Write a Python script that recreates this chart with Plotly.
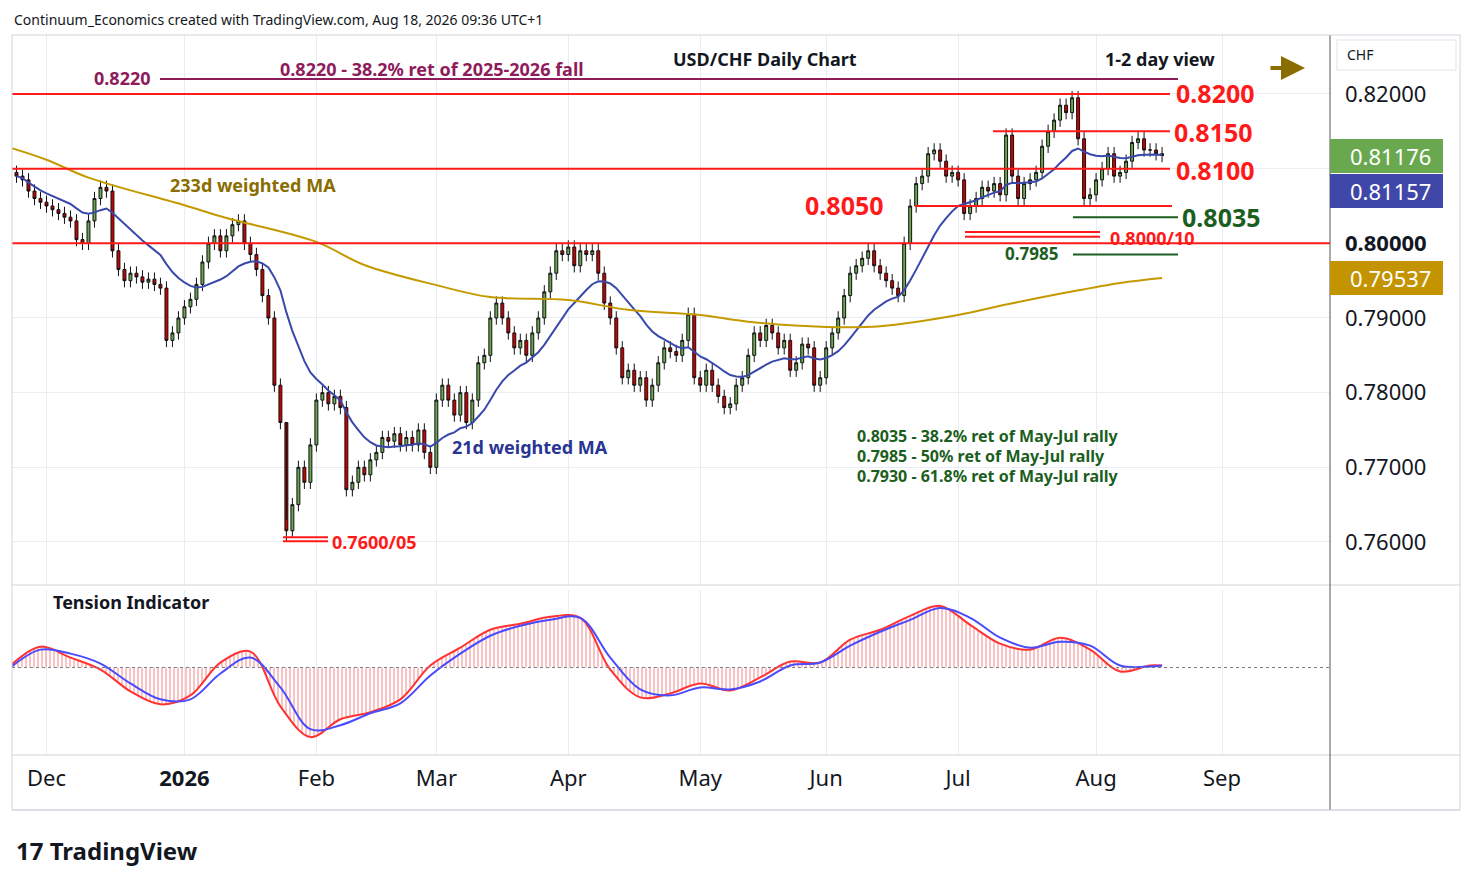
import numpy as np
import pandas as pd
import plotly.graph_objects as go

closes = [
 0.8090, 0.8085, 0.8070, 0.8060, 0.8055,
 0.8050, 0.8045, 0.8040, 0.8035, 0.8030, 0.8005, 0.8000, 0.8030, 0.8060, 0.8075,
 0.8070, 0.7990, 0.7965, 0.7950, 0.7960, 0.7955, 0.7948, 0.7952, 0.7945, 0.7940,
 0.7870, 0.7880, 0.7900,
 0.7915, 0.7925, 0.7945, 0.7975, 0.8000, 0.8010, 0.7990, 0.8010, 0.8025, 0.8030, 0.8000, 0.7985,
 0.7965, 0.7930, 0.7900, 0.7810, 0.7760, 0.7615, 0.7650, 0.7700, 0.7680, 0.7730,
 0.7790, 0.7800, 0.7785, 0.7795, 0.7780, 0.7670, 0.7680, 0.7700, 0.7690, 0.7710,
 0.7720, 0.7740, 0.7735, 0.7745, 0.7730, 0.7740, 0.7730, 0.7750, 0.7720, 0.7700,
 0.7790, 0.7810, 0.7790, 0.7770, 0.7800, 0.7760, 0.7790, 0.7840, 0.7850, 0.7900,
 0.7920, 0.7900, 0.7880, 0.7860, 0.7870, 0.7850, 0.7880, 0.7900, 0.7935, 0.7960, 0.7990, 0.7985,
 0.7995, 0.7970, 0.7990, 0.7985, 0.7990, 0.7960, 0.7920, 0.7900, 0.7860, 0.7820, 0.7830, 0.7810, 0.7820,
 0.7790, 0.7810, 0.7840, 0.7860, 0.7855, 0.7850, 0.7870, 0.7905, 0.7820,
 0.7810, 0.7830, 0.7810, 0.7795, 0.7780, 0.7785, 0.7810, 0.7820, 0.7850, 0.7880, 0.7870,
 0.7890, 0.7880, 0.7860, 0.7870, 0.7830, 0.7840, 0.7865, 0.7860, 0.7810, 0.7820,
 0.7860, 0.7880, 0.7900, 0.7930, 0.7960, 0.7970, 0.7980, 0.7990, 0.7970, 0.7960,
 0.7950, 0.7940, 0.7930, 0.8000, 0.8050, 0.8080, 0.8090, 0.8120, 0.8125, 0.8110, 0.8090, 0.8095,
 0.8085, 0.8040, 0.8050, 0.8060, 0.8075, 0.8070, 0.8080, 0.8065, 0.8145, 0.8090, 0.8060, 0.8080, 0.8085,
 0.8095, 0.8130, 0.8150, 0.8165, 0.8185, 0.8175, 0.8195, 0.8140, 0.8060, 0.8065,
 0.8085, 0.8100, 0.8120, 0.8090, 0.8095, 0.8110, 0.8135, 0.8140, 0.8125, 0.8125, 0.8120, 0.81176,
]
first_open = 0.8095
wick = 0.0009

ma233_dates = ["2025-11-21","2025-12-01","2025-12-10","2026-01-01","2026-01-12","2026-02-02","2026-02-12",
               "2026-03-02","2026-03-13","2026-04-01","2026-04-15","2026-05-01","2026-05-13","2026-06-01",
               "2026-06-12","2026-07-01","2026-07-13","2026-07-27","2026-08-07","2026-08-18"]
ma233_vals = [0.8128,0.8112,0.8088,0.8051,0.8034,0.8002,0.7971,0.7944,0.7928,0.7924,0.7911,0.7904,
              0.7895,0.7888,0.7889,0.7904,0.7918,0.7934,0.7947,0.79537]

tension_vals = [2,21,10,-2,-24,-37,-28,5,16,-39,-70,-52,-45,-32,2,20,38,44,51,50,-2,-30,-26,-16,-23,-10,6,5,
                28,38,52,62,43,24,18,30,18,-4,2,2]
signal_vals = [0,18,14,4,-16,-32,-32,-6,10,-20,-62,-58,-46,-36,-8,14,32,42,48,50,10,-22,-28,-20,-22,-14,2,5,
               22,36,48,60,50,30,20,26,22,2,1,2]

dates = pd.bdate_range("2025-11-24", periods=len(closes))
c = np.array(closes)
o = np.concatenate([[first_open], c[:-1]])
h = np.maximum(o, c) + wick
l = np.minimum(o, c) - wick
h[closes.index(0.7615)] = 0.7600 + 0.0030
l[closes.index(0.7615)] = 0.7600
w = np.arange(1, 22)
wma21 = [np.dot(c[max(0, i-20):i+1], w[-(i+1 - max(0, i-20)):]) / w[-(i+1 - max(0, i-20)):].sum() for i in range(len(c))]
tdates = list(pd.date_range("2025-11-21", periods=39, freq="W-FRI")) + [pd.Timestamp("2026-08-18")]

fig = go.Figure()
fig.add_trace(go.Candlestick(x=dates, open=o, high=h, low=l, close=c,
    increasing=dict(fillcolor="#6aa84f", line=dict(color="#111", width=1)),
    decreasing=dict(fillcolor="#cc0000", line=dict(color="#111", width=1)),
    whiskerwidth=0, showlegend=False))
fig.add_trace(go.Scatter(x=dates, y=wma21, mode="lines", line=dict(color="#3949ab", width=2), showlegend=False))
fig.add_trace(go.Scatter(x=pd.to_datetime(ma233_dates), y=ma233_vals, mode="lines", line=dict(color="#c49a00", width=2, shape="spline"), showlegend=False))
fig.add_trace(go.Scatter(x=tdates, y=tension_vals, mode="lines", fill="tozeroy", fillcolor="rgba(0,0,0,0)",
    fillpattern=dict(shape="|", fgcolor="#e53935", bgcolor="rgba(0,0,0,0)", size=4, solidity=0.3),
    line=dict(color="#ff3333", width=2, shape="spline"), xaxis="x2", yaxis="y2", showlegend=False))
fig.add_trace(go.Scatter(x=tdates, y=signal_vals, mode="lines", line=dict(color="#4a4aff", width=2, shape="spline"),
    xaxis="x2", yaxis="y2", showlegend=False))

W, H = 1466, 879
OFF = 8
def px(x): return (x - OFF) / W
def py(y): return 1 - (y - OFF) / H
xr = ["2025-11-21 06:00", "2026-09-25"]
mtick = pd.to_datetime(["2025-12-01","2026-01-01","2026-02-02","2026-03-02","2026-04-01","2026-05-01","2026-06-01","2026-07-01","2026-08-03","2026-09-01"])
mtext = ["Dec","<b>2026</b>","Feb","Mar","Apr","May","Jun","Jul","Aug","Sep"]
rb = [dict(bounds=["sat", "mon"])]
fig.update_layout(width=W, height=H, margin=dict(l=0, r=0, t=0, b=0), plot_bgcolor="white", paper_bgcolor="white",
    font=dict(family="Noto Sans, DejaVu Sans", color="#131722"),
    xaxis=dict(domain=[px(12), px(1330)], range=xr, rangebreaks=rb, rangeslider=dict(visible=False),
               tickvals=mtick, ticktext=[""]*10, showgrid=True, gridcolor="#e8edf3", anchor="y", zeroline=False),
    yaxis=dict(domain=[py(585), py(35)], range=[0.75424, 0.8279], side="right", tickvals=[0.76,0.77,0.78,0.79,0.80,0.81,0.82],
               ticktext=["0.76000","0.77000","0.78000","0.79000","<b>0.80000</b>","","0.82000"], ticklabelstandoff=14,
               tickfont=dict(size=22, color="#131722"), ticks="", showgrid=True, gridcolor="#e8edf3", anchor="x", zeroline=False),
    xaxis2=dict(domain=[px(12), px(1330)], range=xr, rangebreaks=rb, tickvals=mtick, ticktext=mtext, ticklabelstandoff=8,
                tickfont=dict(size=22), ticks="", showgrid=True, gridcolor="#e8edf3", anchor="y2", zeroline=False),
    yaxis2=dict(domain=[py(755), py(590)], range=[-88, 78], showticklabels=False, showgrid=False, zeroline=False, anchor="x2"),
)

shapes = []
def hl(x0, x1, y, color, width=2, dash=None):
    shapes.append(dict(type="line", xref="paper", yref="y", x0=px(x0), x1=px(x1), y0=y, y1=y,
                       line=dict(color=color, width=width, dash=dash)))
hl(160, 1178, 0.8220, "#8e1b5a")
hl(12, 1170, 0.8200, "#ff1a1a")
hl(993, 1170, 0.8150, "#ff1a1a")
hl(12, 1170, 0.8100, "#ff1a1a")
hl(915, 1172, 0.8050, "#ff1a1a")
hl(1073, 1178, 0.8035, "#1b5e20")
hl(965, 1100, 0.80152, "#ff1a1a")
hl(965, 1100, 0.80087, "#ff1a1a")
hl(12, 1330, 0.8000, "#ff1a1a")
hl(1073, 1178, 0.7985, "#1b5e20")
hl(283, 328, 0.76065, "#ff1a1a")
hl(283, 328, 0.7601, "#ff1a1a")
shapes.append(dict(type="line", xref="paper", yref="y2", x0=px(12), x1=px(1330), y0=0, y1=0, line=dict(color="#787b86", width=1, dash="dot")))
for y in [585, 755, 810]:
    shapes.append(dict(type="line", xref="paper", yref="paper", x0=px(12), x1=px(1460), y0=py(y), y1=py(y), line=dict(color="#d1d4dc", width=1)))
shapes.append(dict(type="line", xref="paper", yref="paper", x0=px(1330), x1=px(1330), y0=py(35), y1=py(810), line=dict(color="#555", width=1)))
shapes.append(dict(type="rect", xref="paper", yref="paper", x0=px(12), x1=px(1460), y0=py(810), y1=py(35), line=dict(color="#d1d4dc", width=1)))
shapes.append(dict(type="rect", xref="paper", yref="paper", x0=px(1337), x1=px(1456), y0=py(70), y1=py(40), line=dict(color="#e0e3eb", width=1)))
for yc, col in [(156, "#6aa84f"), (191, "#3f48a8"), (278, "#c49300")]:
    shapes.append(dict(type="rect", xref="paper", yref="paper", x0=px(1330), x1=px(1443), y0=py(yc+17), y1=py(yc-17), fillcolor=col, line=dict(width=0)))
fig.update_layout(shapes=shapes)

ann = []
def t(x, y, s, color="#131722", size=18, anchor="left", bold=True):
    ann.append(dict(xref="paper", yref="paper", x=px(x), y=py(y), text=("<b>%s</b>" % s) if bold else s, showarrow=False,
             xanchor=anchor, yanchor="middle", font=dict(size=size, color=color)))
t(12, 19, "Continuum_Economics created with TradingView.com, Aug 18, 2026 09:36 UTC+1", size=14, bold=False)
t(765, 59, "USD/CHF Daily Chart", anchor="center", size=18)
t(1160, 59, "1-2 day view", anchor="center", size=18)
t(92, 78, "0.8220", color="#8e1b5a", size=18)
t(278, 69, "0.8220 - 38.2% ret of 2025-2026 fall", color="#8e1b5a", size=18)
t(1174, 93, "0.8200", color="#ff1a1a", size=25)
t(1172, 132, "0.8150", color="#ff1a1a", size=25)
t(1174, 170, "0.8100", color="#ff1a1a", size=25)
t(803, 205, "0.8050", color="#ff1a1a", size=25)
t(1180, 217, "0.8035", color="#1b5e20", size=25)
t(1108, 238, "0.8000/10", color="#ff1a1a", size=18)
t(1003, 254, "0.7985", color="#1b5e20", size=17)
t(330, 542, "0.7600/05", color="#ff1a1a", size=18)
t(168, 185, "233d weighted MA", color="#8a6d00", size=18)
t(450, 447, "21d weighted MA", color="#283593", size=18)
t(855, 436, "0.8035 - 38.2% ret of May-Jul rally", color="#1b5e20", size=16)
t(855, 456, "0.7985 - 50% ret of May-Jul rally", color="#1b5e20", size=16)
t(855, 476, "0.7930 - 61.8% ret of May-Jul rally", color="#1b5e20", size=16)
t(51, 602, "Tension Indicator", size=18)
t(1345, 55, "CHF", size=14, bold=False)
t(1390, 156, "0.81176", color="white", size=22, anchor="center", bold=False)
t(1390, 191, "0.81157", color="white", size=22, anchor="center", bold=False)
t(1390, 278, "0.79537", color="white", size=22, anchor="center", bold=False)
t(14, 850, "17 TradingView", size=24)
ann.append(dict(xref="paper", yref="paper", x=px(1305), y=py(68), ax=-36, ay=0,
                showarrow=True, arrowhead=2, arrowsize=1.2, arrowwidth=4, arrowcolor="#8a6d00", text=""))
fig.update_layout(annotations=ann)
fig.write_html("out.html")
